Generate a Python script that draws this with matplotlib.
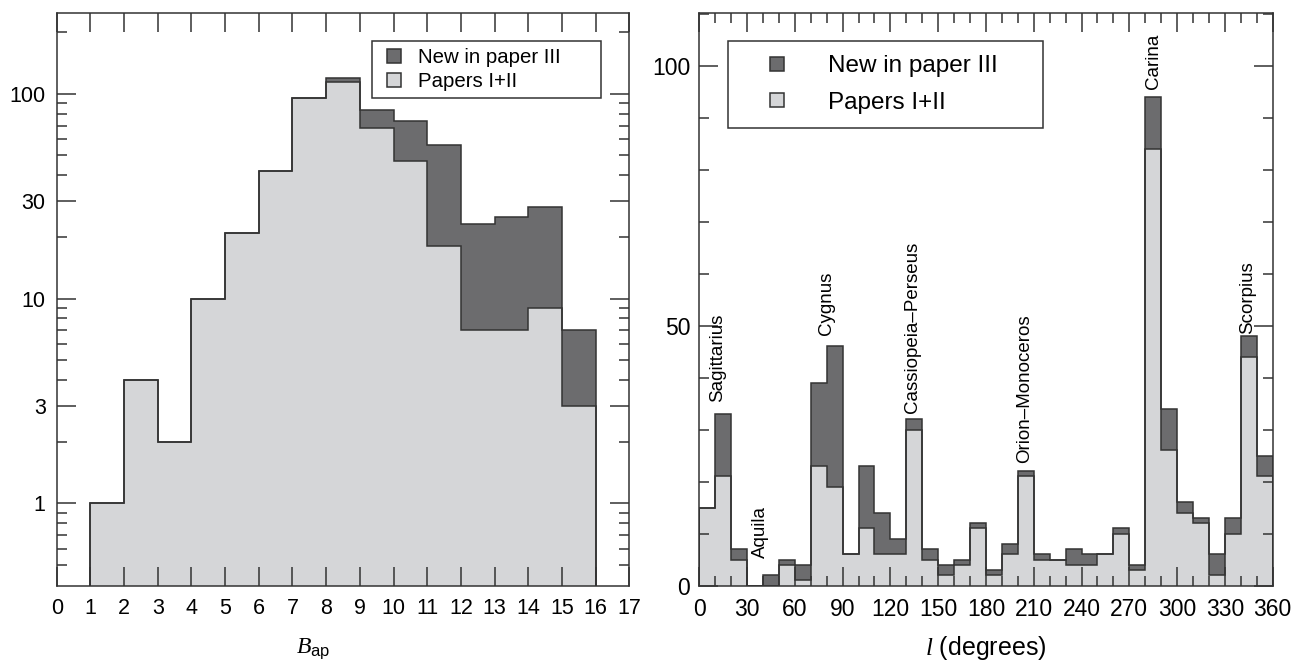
import numpy as np
import matplotlib
matplotlib.use('Agg')
import matplotlib.pyplot as plt
from matplotlib.lines import Line2D
from matplotlib.ticker import FixedLocator, MultipleLocator, NullFormatter

plt.rcParams['font.family'] = ['Liberation Sans', 'DejaVu Sans']
plt.rcParams['mathtext.fontset'] = 'custom'
plt.rcParams['mathtext.rm'] = 'Liberation Sans'
plt.rcParams['mathtext.it'] = 'Liberation Serif:italic'

# magnitude histogram, bins of 1 mag from 1 to 16
mag_edges = np.arange(1, 17)
mag_old = [1, 4, 2, 10, 21, 42, 95, 114, 68, 47, 18, 7, 7, 9, 3]
mag_new = [0, 0, 0, 0, 0, 0, 0, 5, 15, 27, 38, 16, 18, 19, 4]

# galactic longitude histogram, bins of 10 degrees
lon_edges = np.arange(0, 361, 10)
lon_old = [15, 21, 5, 0, 0, 4, 1, 23, 19, 6, 11, 6, 6, 30, 5, 2, 4, 11,
           2, 6, 21, 5, 5, 4, 4, 6, 10, 3, 84, 26, 14, 12, 2, 10, 44, 21]
lon_new = [0, 12, 2, 0, 2, 1, 3, 16, 27, 0, 12, 8, 3, 2, 2, 2, 1, 1,
           1, 2, 1, 1, 0, 3, 2, 0, 1, 1, 10, 8, 2, 1, 4, 3, 4, 4]

# region names: (name, longitude, count at label foot)
regions = [('Sagittarius', 11.3, 35.3), ('Aquila', 38.6, 5.3),
           ('Cygnus', 79.9, 48.3), ('Cassiopeia\u2013Perseus', 133.9, 33.2),
           ('Orion\u2013Monoceros', 204.0, 23.5), ('Carina', 285.0, 95.5),
           ('Scorpius', 344.3, 48.4)]

dark = '#6c6c6e'
light = '#d5d6d8'
edge = '#333333'
lw = 1.1

fig = plt.figure(figsize=(13.01, 6.60), dpi=100)
ax1 = fig.add_axes([0.0436, 0.1126, 0.4401, 0.8682])
ax2 = fig.add_axes([0.5375, 0.1126, 0.4407, 0.8682])


def stacked(ax, edges, old, new, base):
    old = np.array(old, float)
    tot = old + np.array(new, float)
    ax.stairs(tot, edges, baseline=base, fill=True, color=dark, lw=0)
    ax.stairs(old, edges, baseline=base, fill=True, color=light, lw=0)
    ax.stairs(tot, edges, baseline=base, fill=False, color=edge, lw=lw)
    ax.stairs(old, edges, baseline=base, fill=False, color=edge, lw=lw)


def frame(ax, ysize):
    for s in ax.spines.values():
        s.set_linewidth(lw)
        s.set_color(edge)
    ax.tick_params(which='both', direction='in', top=True, right=True,
                   width=lw, color=edge, labelsize=ysize)
    ax.tick_params(which='major', length=13.7)
    ax.tick_params(which='minor', length=7)


def square(c):
    return Line2D([], [], ls='none', marker='s', markersize=10,
                  markerfacecolor=c, markeredgecolor=edge, markeredgewidth=lw)


handles = [square(dark), square(light)]
labels = ['New in paper III', 'Papers I+II']

# left: magnitude distribution (log counts)
stacked(ax1, mag_edges, mag_old, mag_new, 0.1)
ax1.set_yscale('log')
ax1.set_xlim(0, 17)
ax1.set_ylim(0.396, 249)
frame(ax1, 15.5)
ax1.xaxis.set_major_locator(MultipleLocator(1))
ax1.xaxis.set_minor_locator(FixedLocator([]))
ax1.yaxis.set_major_locator(FixedLocator([1, 3, 10, 30, 100]))
ax1.set_yticklabels(['1', '3', '10', '30', '100'])
ax1.yaxis.set_minor_locator(FixedLocator(
    [0.5, 0.6, 0.7, 0.8, 0.9, 2, 4, 5, 6, 7, 8, 9,
     20, 40, 50, 60, 70, 80, 90, 200]))
ax1.yaxis.set_minor_formatter(NullFormatter())
ax1.tick_params(axis='x', pad=9)
ax1.tick_params(axis='y', pad=8)
ax1.set_xlabel(r'$B_{\mathrm{ap}}$', fontsize=17)
ax1.xaxis.set_label_coords(0.447, -0.088)

leg1 = ax1.legend(handles, labels, loc='upper left', mode='expand',
                  bbox_to_anchor=(0.550, 0.852, 0.4006, 0.099),
                  fontsize=14.7, handlelength=1.5, handleheight=0.7,
                  handletextpad=0.44, labelspacing=0.25, borderpad=0.35,
                  borderaxespad=0, fancybox=False, framealpha=1,
                  edgecolor=edge)
leg1.get_frame().set_linewidth(lw)

# right: galactic longitude distribution
stacked(ax2, lon_edges, lon_old, lon_new, 0)
ax2.set_xlim(0, 360)
ax2.set_ylim(0, 110.2)
frame(ax2, 16.5)
ax2.xaxis.set_major_locator(MultipleLocator(30))
ax2.xaxis.set_minor_locator(MultipleLocator(10))
ax2.yaxis.set_major_locator(FixedLocator([0, 50, 100]))
ax2.yaxis.set_minor_locator(MultipleLocator(10))
ax2.tick_params(axis='x', pad=9)
ax2.tick_params(axis='y', pad=6.5)
ax2.set_xlabel(r'$l$ (degrees)', fontsize=18)
ax2.xaxis.set_label_coords(0.5, -0.084)

for name, l, n in regions:
    ax2.text(l, n, name, rotation=90, ha='center', va='bottom', fontsize=13.5)

leg2 = ax2.legend(handles, labels, loc='upper left', mode='expand',
                  bbox_to_anchor=(0.0503, 0.849, 0.5494, 0.1021),
                  fontsize=17.5, handlelength=2.83, handleheight=0.7,
                  handletextpad=0.68, labelspacing=0.6, borderpad=0.6,
                  borderaxespad=0, fancybox=False, framealpha=1,
                  edgecolor=edge)
leg2.get_frame().set_linewidth(lw)

fig.savefig('out.png', dpi=100)
